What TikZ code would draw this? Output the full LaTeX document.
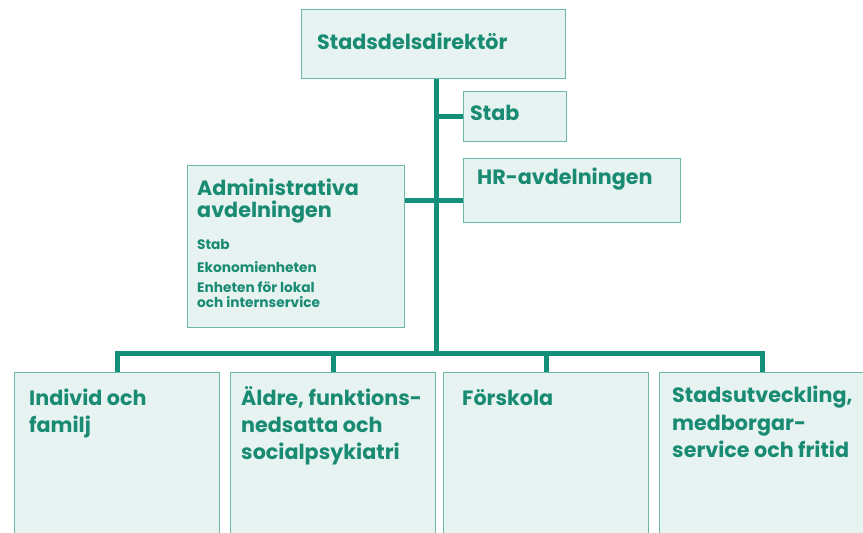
\documentclass[tikz,border=0pt]{standalone}
\usepackage{fontspec}
\setmainfont{Poppins}
\definecolor{teal1}{HTML}{1A8B73}
\definecolor{lineC}{HTML}{14907A}
\definecolor{boxF}{HTML}{E6F3F1}
\definecolor{boxD}{HTML}{6DB8AA}
\tikzset{
  box/.style={draw=boxD, fill=boxF, line width=1.2pt, anchor=north west, inner sep=0pt},
  big/.style={anchor=base west, inner sep=0pt, text=teal1, font=\fontsize{20.7}{24}\selectfont\bfseries},
  small/.style={anchor=base west, inner sep=0pt, text=teal1, font=\fontsize{13.7}{16}\selectfont\bfseries},
  conn/.style={draw=lineC, line width=5pt}
}
\begin{document}
\begin{tikzpicture}[x=1pt,y=-1pt]
\useasboundingbox (0,0) rectangle (863,533);
\clip (0,0) rectangle (863,533);
% boxes
\node[box, minimum width=264pt, minimum height=69pt] (dir) at (301,9) {};
\node[box, minimum width=103pt, minimum height=50pt] (stab) at (463,91) {};
\node[box, minimum width=217pt, minimum height=64pt] (hr) at (463,158) {};
\node[box, minimum width=217pt, minimum height=162pt] (adm) at (187,165) {};
\node[box, minimum width=205pt, minimum height=180pt] (c1) at (14,372) {};
\node[box, minimum width=205pt, minimum height=180pt] (c2) at (230,372) {};
\node[box, minimum width=205pt, minimum height=180pt] (c3) at (443,372) {};
\node[box, minimum width=205pt, minimum height=180pt] (c4) at (659,372) {};
% connectors
\coordinate (t) at (436,353);
\coordinate (hb) at (436,200);
\draw[conn] (t |- dir.south) -- (t);
\draw[conn] (t |- stab.west) -- (stab.west);
\draw[conn] (adm.east |- hb) -- (hr.west |- hb);
\draw[conn, line cap=rect] (c1.north |- t) -- (c4.north |- t);
\draw[conn] (c1.north |- t) -- (c1.north);
\draw[conn] (c2.north |- t) -- (c2.north);
\draw[conn] (c3.north |- t) -- (c3.north);
\draw[conn] (c4.north |- t) -- (c4.north);
% texts
\node[big] (tdir) at (317,49) {Stadsdelsdirektör};
\node[big] (tstab) at (470,120) {Stab};
\node[big] (thr) at (477,184) {HR-avdelningen};
\node[big] (tadm1) at (197,195) {Administrativa};
\node[big] (tadm2) at (197,217) {avdelningen};
\node[small] (s1) at (197,249) {Stab};
\node[small] (s2) at (197,272) {Ekonomienheten};
\node[small] (s3) at (197,292) {Enheten för lokal};
\node[small] (s4) at (197,307) {och internservice};
\node[big] (a1) at (29,405) {Individ och};
\node[big] (a2) at (29,432) {familj};
\node[big] (b1) at (241,405) {Äldre, funktions-};
\node[big] (b2) at (241,432) {nedsatta och};
\node[big] (b3) at (241,459) {socialpsykiatri};
\node[big] (f1) at (462,405) {Förskola};
\node[big] (d1) at (672,402) {Stadsutveckling,};
\node[big] (d2) at (672,430) {medborgar-};
\node[big] (d3) at (672,457) {service och fritid};
\end{tikzpicture}
\end{document}
